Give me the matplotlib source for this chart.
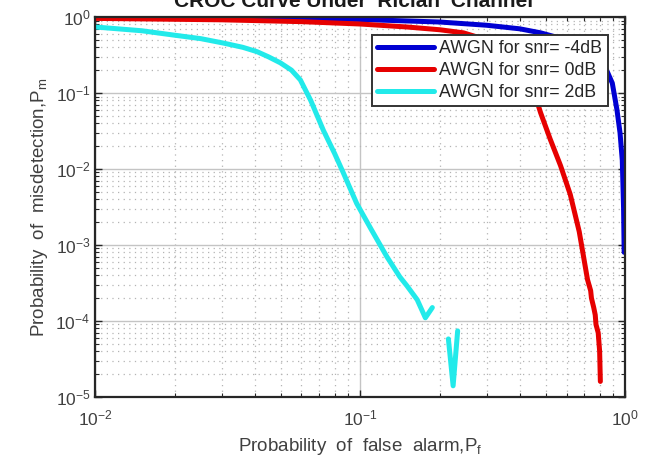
import numpy as np
import matplotlib
matplotlib.use("Agg")
import matplotlib.pyplot as plt
from matplotlib.ticker import LogLocator, LogFormatterMathtext, NullFormatter

plt.rcParams['font.family'] = ['Liberation Sans', 'DejaVu Sans']
plt.rcParams['mathtext.fontset'] = 'custom'
plt.rcParams['mathtext.rm'] = 'Liberation Sans'
plt.rcParams['mathtext.it'] = 'Liberation Sans:italic'
plt.rcParams['mathtext.bf'] = 'Liberation Sans:bold'

# ---- data ----
labels = ["AWGN for snr= -4dB", "AWGN for snr= 0dB", "AWGN for snr= 2dB"]

pf_m4 = [0.010, 0.030, 0.100, 0.200, 0.300, 0.400, 0.479, 0.600, 0.700, 0.800,
         0.850, 0.893, 0.930, 0.955, 0.974, 0.985, 0.990]
pm_m4 = [1.00, 0.98, 0.93, 0.86, 0.78, 0.70, 0.62, 0.50, 0.40, 0.28,
         0.20, 0.135, 0.06, 0.03, 0.013, 0.003, 0.0008]

pf_0 = [0.010, 0.030, 0.060, 0.100, 0.150, 0.200, 0.245, 0.300, 0.350, 0.400,
        0.450, 0.479, 0.520, 0.570, 0.620, 0.670, 0.720, 0.740, 0.745, 0.760,
        0.770, 0.775, 0.790, 0.800, 0.805]
pm_0 = [0.96, 0.92, 0.87, 0.81, 0.74, 0.68, 0.62, 0.50, 0.36, 0.22,
        0.11, 0.055, 0.025, 0.011, 0.0046, 0.0015, 0.00035, 0.00025, 0.00020, 0.00015,
        0.00012, 0.00009, 0.00007, 0.00004, 0.000016]

pf_2 = [0.0100, 0.0150, 0.0197, 0.0250, 0.0304, 0.0360, 0.0408, 0.0450, 0.0499,
        0.0550, 0.0594, 0.0650, 0.0725, 0.0800, 0.0863, 0.0970, 0.1100, 0.1260,
        0.1410, 0.1500, 0.1640, 0.1760, 0.1870, np.nan, 0.2150, 0.2240, 0.2330]
pm_2 = [0.74, 0.66, 0.58, 0.52, 0.455, 0.40, 0.35, 0.30, 0.25,
        0.20, 0.149, 0.08, 0.0325, 0.016, 0.0089, 0.0035, 0.0016, 0.0007,
        0.00038, 0.00029, 0.00019, 0.00011, 0.00015, np.nan, 0.000058, 0.000014, 0.000074]

colors = ["#0000d2", "#e60000", "#22eaea"]

fig = plt.figure(figsize=(6.48, 4.61), dpi=100)
ax = fig.add_axes([0.147, 0.139, 0.818, 0.824])

for x, y, c, lab in zip([pf_m4, pf_0, pf_2], [pm_m4, pm_0, pm_2], colors, labels):
    ax.plot(x, y, color=c, lw=3.6, label=lab, solid_joinstyle='round', solid_capstyle='round')

ax.set_xscale('log')
ax.set_yscale('log')
ax.set_xlim(1e-2, 1)
ax.set_ylim(1e-5, 1)

ax.xaxis.set_major_locator(LogLocator(base=10, numticks=10))
ax.yaxis.set_major_locator(LogLocator(base=10, numticks=10))
ax.xaxis.set_minor_locator(LogLocator(base=10, subs=np.arange(2, 10), numticks=20))
ax.yaxis.set_minor_locator(LogLocator(base=10, subs=np.arange(2, 10), numticks=20))
ax.xaxis.set_major_formatter(LogFormatterMathtext())
ax.yaxis.set_major_formatter(LogFormatterMathtext())
ax.xaxis.set_minor_formatter(NullFormatter())
ax.yaxis.set_minor_formatter(NullFormatter())

ax.grid(True, which='major', color='#c4c4c4', lw=1.0, ls='-')
ax.grid(True, which='minor', color='#b4b4b4', lw=0.9, ls=(0, (1, 3.5)))
ax.set_axisbelow(True)

tc = '#404040'
ax.tick_params(which='both', direction='in', top=True, right=True, colors='#262626',
               labelcolor=tc, labelsize=12.5)
ax.tick_params(which='major', length=5, width=1)
ax.tick_params(which='minor', length=3, width=0.8)
ax.tick_params(axis='x', pad=8)
for s in ax.spines.values():
    s.set_color('#262626')
    s.set_linewidth(1.6)

ax.set_xlabel('Probability  of  false  alarm,P$_\\mathrm{f}$', fontsize=13.5, color=tc, labelpad=6)
ax.set_ylabel('Probability  of  misdetection,P$_\\mathrm{m}$', fontsize=13.5, color=tc, labelpad=4)

leg = ax.legend(loc='upper right', fontsize=12.8, handlelength=3.2, handletextpad=0.3,
                borderaxespad=1.0, borderpad=0.3, labelspacing=0.28, fancybox=False,
                framealpha=1, edgecolor='#333333')
leg.get_frame().set_linewidth(1.4)
for t in leg.get_texts():
    t.set_color('#262626')

fig.text(0.545, 1 - 7 / 461, "CROC Curve Under 'Rician' Channel", ha='center', va='baseline',
         fontsize=15, fontweight='bold', color='#1a1a1a')

fig.savefig('out.png', dpi=100)
